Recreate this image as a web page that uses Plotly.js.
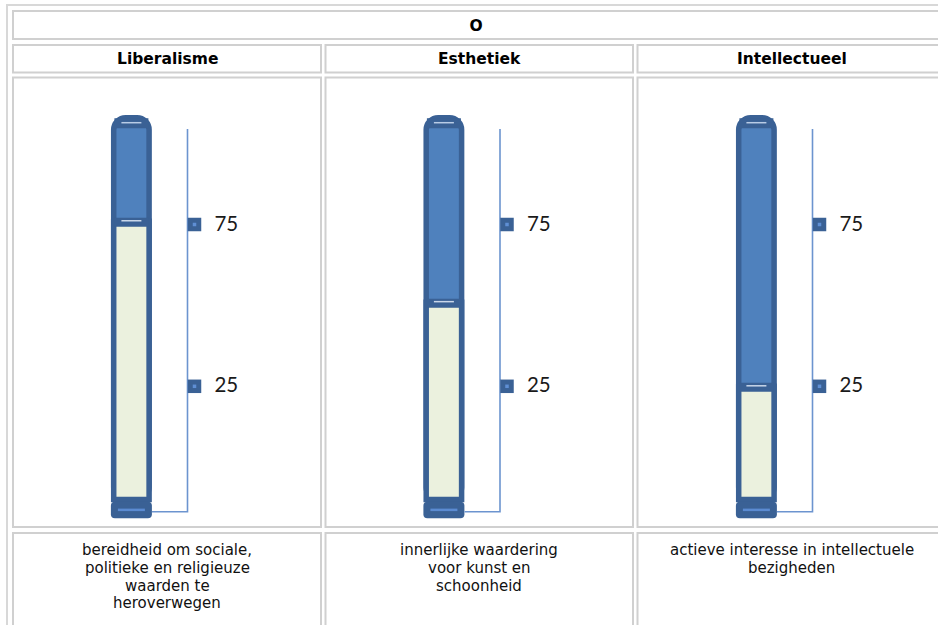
<!DOCTYPE html>
<html><head><meta charset="utf-8">
<script src="https://cdn.plot.ly/plotly-3.0.1.min.js"></script>
<style>html,body{margin:0;padding:0;background:#fff;} #chart{width:938px;height:625px;}</style>
</head><body><div id="chart"></div>
<script>
// ---------- data ----------
const groupTitle = 'O';
const categories = ['Liberalisme', 'Esthetiek', 'Intellectueel'];
const scores = [76, 51, 25];
const descriptions = [
  ['bereidheid om sociale,', 'politieke en religieuze', 'waarden te', 'heroverwegen'],
  ['innerlijke waardering', 'voor kunst en', 'schoonheid'],
  ['actieve interesse in intellectuele', 'bezigheden']
];
const tickValues = [25, 75];
const tickLabels = ['25', '75'];
const tubeBottom = -10;
const tubeTop = 108;
const scaleTop = 104.5;
const scaleBottom = -13.75;

// ---------- geometry / style ----------
const W = 938, H = 625;
const colPitch = 312.5, firstCenter = 131.4;
const u = 1 / colPitch;            // x units per pixel
const pxPerVal = 3.236, ref75px = 224.5;
const vpx = p => p / pxPerVal;     // value units per pixel
const yRange = [75 - (H - ref75px) / pxPerVal, 75 + ref75px / pxPerVal];
const xRange = [-firstCenter * u, (W - firstCenter) * u];
const dark = '#3a6195', blue = '#4f81bd', light = '#ebf1de', scaleCol = '#6c94cf';
const idx = categories.map((c, i) => i);

function segs(dxA, dxB, yFn) {
  const xs = [], ys = [];
  idx.forEach(i => { xs.push(i + dxA * u, i + dxB * u, null); const y = yFn(i); ys.push(y, y, null); });
  return {xs, ys};
}

const traces = [];
// tube (blue part)
traces.push({type: 'bar', x: idx, y: idx.map(() => tubeTop - tubeBottom), base: tubeBottom,
  width: 35.4 * u, marker: {color: blue, line: {color: dark, width: 5.5}, cornerradius: 12}, hoverinfo: 'skip'});
// filled part
traces.push({type: 'bar', x: idx, y: scores.map(s => s - tubeBottom), base: tubeBottom,
  width: 35.4 * u, marker: {color: light, line: {color: dark, width: 5.5}}, hoverinfo: 'skip'});
// base cap
traces.push({type: 'bar', x: idx, y: idx.map(() => vpx(16.6)), base: tubeBottom - vpx(18.7),
  width: 41 * u, marker: {color: dark, line: {width: 0}, cornerradius: 4}, hoverinfo: 'skip'});
// base stripe
let s = segs(-13.5, 13.5, () => tubeBottom - vpx(10.3));
traces.push({type: 'scatter', mode: 'lines', x: s.xs, y: s.ys, line: {color: '#5b8bd2', width: 2.5}, hoverinfo: 'skip'});
// top cap band + highlight
s = segs(-17, 17, () => tubeTop - vpx(5.5));
traces.push({type: 'scatter', mode: 'lines', x: s.xs, y: s.ys, line: {color: dark, width: 10}, hoverinfo: 'skip'});
s = segs(-10, 10, () => tubeTop - vpx(5));
traces.push({type: 'scatter', mode: 'lines', x: s.xs, y: s.ys, line: {color: '#b9cce6', width: 1.5}, hoverinfo: 'skip'});
// fill level band + highlight
s = segs(-17, 17, i => scores[i] - vpx(1));
traces.push({type: 'scatter', mode: 'lines', x: s.xs, y: s.ys, line: {color: dark, width: 9}, hoverinfo: 'skip'});
s = segs(-10, 10, i => scores[i] + vpx(0.5));
traces.push({type: 'scatter', mode: 'lines', x: s.xs, y: s.ys, line: {color: '#c9d7ea', width: 1.5}, hoverinfo: 'skip'});
// scale line
const sx = [], sy = [];
idx.forEach(i => { sx.push(i + 56.1 * u, i + 56.1 * u, i + 20.6 * u, null); sy.push(scaleTop, scaleBottom, scaleBottom, null); });
traces.push({type: 'scatter', mode: 'lines', x: sx, y: sy, line: {color: scaleCol, width: 1.6}, hoverinfo: 'skip'});
// tick markers
const tx = [], ty = [], tt = [];
idx.forEach(i => tickValues.forEach((tv, k) => { tx.push(i); ty.push(tv); tt.push(tickLabels[k]); }));
traces.push({type: 'scatter', mode: 'markers', x: tx.map(x => x + 63.1 * u), y: ty,
  marker: {symbol: 'square', size: 13.5, color: dark}, hoverinfo: 'skip'});
traces.push({type: 'scatter', mode: 'markers', x: tx.map(x => x + 63.1 * u), y: ty,
  marker: {symbol: 'square', size: 3.5, color: '#5f8fd4'}, hoverinfo: 'skip'});
traces.push({type: 'scatter', mode: 'text', x: tx.map(x => x + 83 * u), y: ty.map(y => y - vpx(1)), text: tt,
  textposition: 'middle right', textfont: {family: 'Lato, sans-serif', size: 20.5, color: '#1a1a1a'}, hoverinfo: 'skip'});

// ---------- table frame ----------
const px = x => x / W, py = y => 1 - y / H;
const gray = '#d0d0d0';
function rect(x0, y0, x1, y1, col, w) {
  return {type: 'rect', xref: 'paper', yref: 'paper', x0: px(x0), x1: px(x1), y0: py(y1), y1: py(y0),
    line: {color: col || gray, width: w || 2}, fillcolor: 'rgba(0,0,0,0)', layer: 'below'};
}
const colX = [[13, 321], [325.5, 633], [637.5, 946]];
const shapes = [rect(7, 5, 953, 700, '#d8d8d8', 2), rect(13, 11, 946, 39)];
colX.forEach(([a, b]) => {
  shapes.push(rect(a, 45, b, 72.5));
  shapes.push(rect(a, 77.5, b, 527));
  shapes.push(rect(a, 533, b, 700));
});

const annotations = [];
categories.forEach((c, i) => {
  const cx = (colX[i][0] + colX[i][1]) / 2;
  annotations.push({xref: 'paper', yref: 'paper', x: px(cx), y: py(59), xanchor: 'center', yanchor: 'middle',
    text: '<b>' + c + '</b>', showarrow: false, font: {family: 'DejaVu Sans', size: 15.5, color: '#000'}});
  descriptions[i].forEach((line, k) => {
    annotations.push({xref: 'paper', yref: 'paper', x: px(cx), y: py(550 + k * 17.8), xanchor: 'center', yanchor: 'middle',
      text: line, showarrow: false, font: {family: 'DejaVu Sans', size: 15, color: '#111'}});
  });
});

const layout = {
  width: W, height: H, margin: {l: 0, r: 0, t: 0, b: 0, pad: 0},
  paper_bgcolor: '#fff', plot_bgcolor: 'rgba(0,0,0,0)',
  title: {text: '<b>' + groupTitle + '</b>', x: px(476), xanchor: 'center', xref: 'paper',
    y: py(25.5), yanchor: 'middle', yref: 'paper', font: {family: 'DejaVu Sans', size: 15.5, color: '#000'}},
  xaxis: {range: xRange, visible: false, fixedrange: true},
  yaxis: {range: yRange, visible: false, fixedrange: true},
  barmode: 'overlay', showlegend: false, hovermode: false,
  shapes, annotations
};
Plotly.newPlot('chart', traces, layout, {staticPlot: true, displayModeBar: false});
</script></body></html>
